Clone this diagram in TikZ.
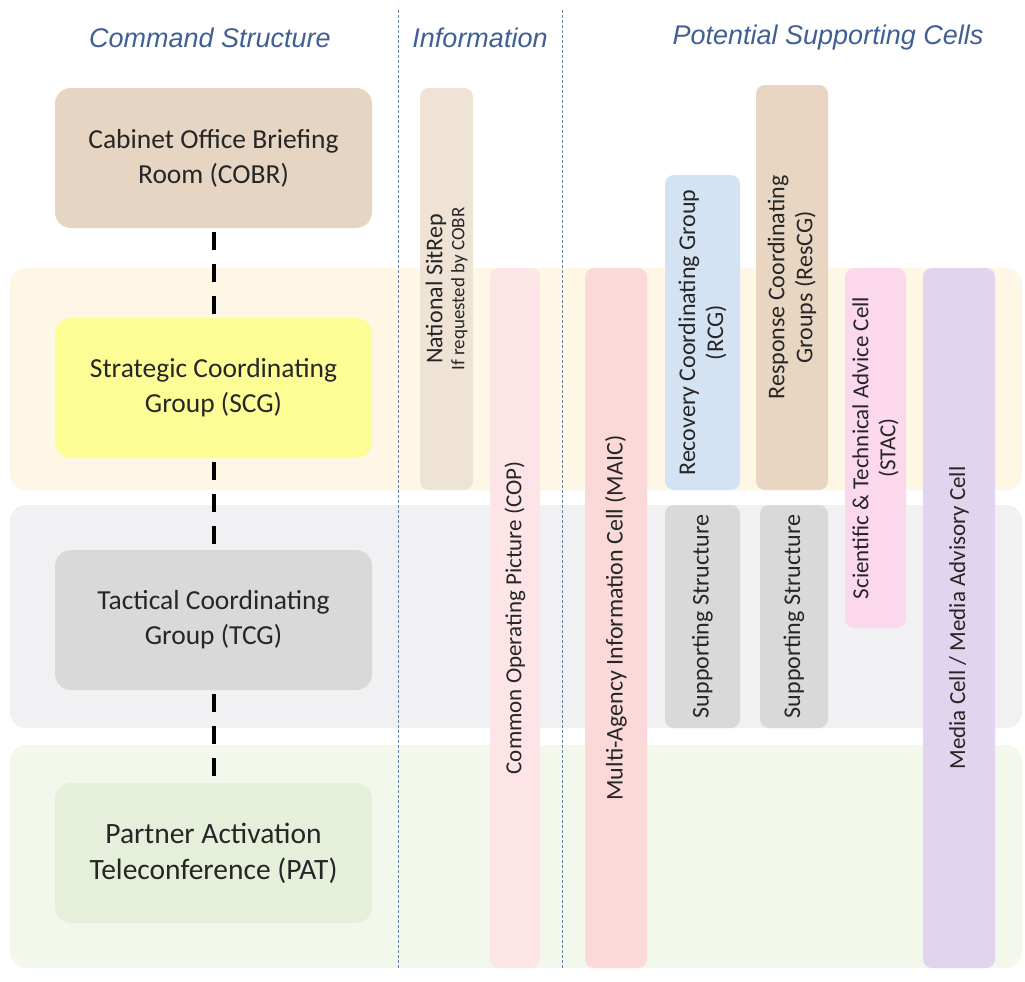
\documentclass[tikz,border=0pt]{standalone}
\usepackage{fontspec}
\setmainfont{Carlito}
\newfontfamily\hdfont{Liberation Sans}
\definecolor{bandY}{HTML}{FEF7E6}
\definecolor{bandG}{HTML}{F1F1F3}
\definecolor{bandN}{HTML}{F3F8EC}
\definecolor{cobrC}{HTML}{E6D5C3}
\definecolor{scgC}{HTML}{FDFD96}
\definecolor{tcgC}{HTML}{D9D9D9}
\definecolor{patC}{HTML}{E5EFD9}
\definecolor{sitC}{HTML}{EFE3D6}
\definecolor{copC}{HTML}{FDE5E7}
\definecolor{maicC}{HTML}{FCD9D9}
\definecolor{rcgC}{HTML}{D4E3F3}
\definecolor{rescgC}{HTML}{E8D6C2}
\definecolor{stacC}{HTML}{FCD8EC}
\definecolor{mediaC}{HTML}{E1D4EE}
\definecolor{hdC}{HTML}{3F5F95}
\definecolor{txtC}{HTML}{262626}
\begin{document}
\begin{tikzpicture}[x=1pt,y=-1pt,
  band/.style={rounded corners=16pt},
  cmdbox/.style={rounded corners=16pt, minimum width=317pt, minimum height=140pt, align=center, inner sep=0pt, text=txtC, font=\fontsize{27.5}{35}\selectfont},
  vbox/.style={rotate=90, rounded corners=9pt, align=center, inner sep=0pt, text=txtC, font=\fontsize{24}{28}\selectfont},
  header/.style={text=hdC, font=\hdfont\itshape\fontsize{27}{30}\selectfont},
  infoline/.style={draw=hdC!80, line width=0.7pt, dash pattern=on 3pt off 2pt},
  conn/.style={draw=black, line width=4pt, dash pattern=on 18pt off 14pt}]
\useasboundingbox (0,0) rectangle (1025,982);
\fill[white] (0,0) rectangle (1025,982);
% bands
\fill[bandY, band] (10,268) rectangle (1022,490);
\fill[bandG, band] (10,505) rectangle (1022,728);
\fill[bandN, band] (10,745) rectangle (1022,968);
% info dividers
\coordinate (d1t) at (398,10); \coordinate (d1b) at (398,968);
\coordinate (d2t) at (562,10); \coordinate (d2b) at (562,968);
\draw[infoline] (d1t) -- (d1b);
\draw[infoline] (d2t) -- (d2b);
% headers
\node[header] (h1) at (210,38) {Command Structure};
\node[header] (h2) at (480,38) {Information};
\node[header] (h3) at (828,38) {Potential Supporting Cells};
% command structure
\node[cmdbox, fill=cobrC] (cobr) at (213.5,158) {Cabinet Office Briefing\\Room (COBR)};
\node[cmdbox, fill=scgC] (scg) at (213.5,388) {Strategic Coordinating\\Group (SCG)};
\node[cmdbox, fill=tcgC] (tcg) at (213.5,620) {Tactical Coordinating\\Group (TCG)};
\node[cmdbox, fill=patC, font=\fontsize{29.5}{36}\selectfont] (pat) at (213.5,853) {Partner Activation\\Teleconference (PAT)};
\draw[conn] ([yshift=-4pt]cobr.south) -- ([yshift=4pt]scg.north);
\draw[conn] ([yshift=-4pt]scg.south) -- ([yshift=4pt]tcg.north);
\draw[conn] ([yshift=-4pt]tcg.south) -- ([yshift=4pt]pat.north);
% information
\node[vbox, fill=sitC, minimum width=402pt, minimum height=53pt, font=\fontsize{24}{22}\selectfont] (sit) at (446.5,289) {National SitRep\\{\fontsize{19}{22}\selectfont If requested by COBR}};
\node[vbox, fill=copC, minimum width=700pt, minimum height=50pt, font=\fontsize{23}{27}\selectfont] (cop) at (515,618) {Common Operating Picture (COP)};
% supporting cells
\node[vbox, fill=maicC, minimum width=700pt, minimum height=62pt] (maic) at (616,618) {Multi-Agency Information Cell (MAIC)};
\node[vbox, fill=rcgC, minimum width=315pt, minimum height=75pt] (rcg) at (702.5,332.5) {Recovery Coordinating Group\\(RCG)};
\node[vbox, fill=rescgC, minimum width=405pt, minimum height=72pt] (rescg) at (792,287.5) {Response Coordinating\\Groups (ResCG)};
\node[vbox, fill=tcgC, minimum width=223pt, minimum height=75pt] (sup1) at (702.5,616.5) {Supporting Structure};
\node[vbox, fill=tcgC, minimum width=223pt, minimum height=68pt] (sup2) at (794,616.5) {Supporting Structure};
\node[vbox, fill=stacC, minimum width=360pt, minimum height=61pt, font=\fontsize{23}{27}\selectfont] (stac) at (875.5,448) {Scientific \& Technical Advice Cell\\(STAC)};
\node[vbox, fill=mediaC, minimum width=700pt, minimum height=72pt, font=\fontsize{23}{27}\selectfont] (media) at (959,618) {Media Cell / Media Advisory Cell};
\end{tikzpicture}
\end{document}
